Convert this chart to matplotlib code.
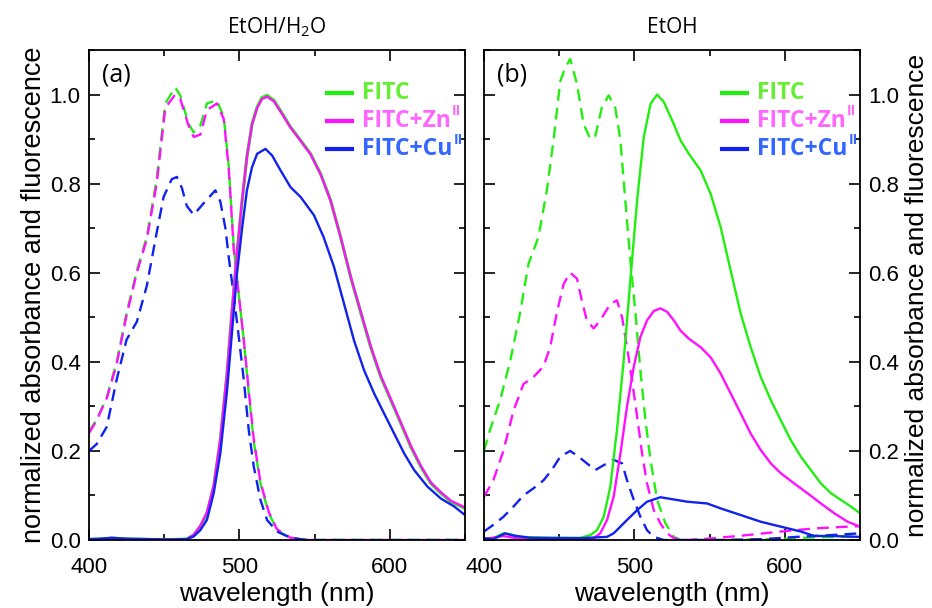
import numpy as np
import matplotlib
matplotlib.use('Agg')
import matplotlib.pyplot as plt
from matplotlib.ticker import MultipleLocator, FormatStrFormatter

# ---- (a) EtOH/H2O : absorbance (dashed) ----
wl_abs_a = [400, 405, 411.8, 418.4, 425, 431.8, 438.4, 445, 450.7, 457.3, 460.7, 466.2, 469.6, 474,
            478.4, 485, 489.6, 492.9, 496.2, 499.6, 502.9, 506.2, 509.6, 514, 519.6, 525, 534, 545, 600, 650]
abs_fitc_a = [0.243, 0.27, 0.32, 0.40, 0.51, 0.605, 0.68, 0.81, 0.98, 1.016, 0.998, 0.934, 0.915, 0.93,
              0.98, 0.987, 0.95, 0.84, 0.66, 0.55, 0.45, 0.33, 0.22, 0.127, 0.06, 0.022, 0.004, 0.0, 0.0, 0.0]
abs_zn_a = [0.24, 0.268, 0.318, 0.395, 0.505, 0.60, 0.675, 0.80, 0.97, 1.0, 0.99, 0.93, 0.905, 0.91,
            0.965, 0.98, 0.945, 0.835, 0.655, 0.55, 0.45, 0.335, 0.225, 0.13, 0.062, 0.024, 0.005, 0.0, 0.0, 0.0]

wl_abs_cu_a = [400, 405, 411.8, 418.4, 425, 431.8, 438.4, 445, 449.6, 455, 458.4, 461.8, 465, 469.6, 476,
               484, 487.3, 490.7, 492.9, 496.2, 499.6, 502.9, 506.2, 509.6, 514, 518.4, 525, 534, 545, 650]
abs_cu_a = [0.20, 0.215, 0.254, 0.36, 0.45, 0.49, 0.57, 0.69, 0.77, 0.81, 0.815, 0.79, 0.75, 0.73, 0.755,
            0.785, 0.76, 0.70, 0.635, 0.55, 0.456, 0.36, 0.247, 0.164, 0.09, 0.045, 0.019, 0.005, 0.0, 0.0]

# ---- (a) EtOH/H2O : fluorescence (solid) ----
wl_em_a = [400, 408, 415, 425, 440, 455, 465, 469.6, 474, 478.4, 482.9, 487.3, 491.8, 495, 498.4, 501.8,
           505, 508.4, 511.8, 515, 518.4, 522.9, 527.3, 534, 540.7, 547.3, 554, 560.7, 567.3, 574,
           580.7, 587.3, 594, 600.7, 607.3, 614, 620.7, 627.3, 634, 640.7, 650]
em_fitc_a = [0.001, 0.002, 0.004, 0.002, 0.001, 0.001, 0.002, 0.011, 0.03, 0.06, 0.12, 0.224, 0.374, 0.51,
             0.643, 0.762, 0.86, 0.934, 0.972, 0.993, 0.998, 0.987, 0.964, 0.927, 0.897, 0.867, 0.822,
             0.762, 0.68, 0.59, 0.51, 0.433, 0.366, 0.314, 0.262, 0.209, 0.164, 0.127, 0.105, 0.086, 0.071]
em_zn_a = [0.001, 0.002, 0.004, 0.002, 0.001, 0.001, 0.002, 0.012, 0.032, 0.062, 0.122, 0.226, 0.376, 0.512,
           0.645, 0.763, 0.86, 0.933, 0.97, 0.99, 0.995, 0.985, 0.962, 0.926, 0.896, 0.866, 0.821,
           0.761, 0.68, 0.591, 0.512, 0.435, 0.368, 0.316, 0.264, 0.211, 0.166, 0.129, 0.107, 0.088, 0.073]

wl_em_cu_a = [400, 408, 415, 425, 440, 455, 465, 469.6, 474, 478.4, 482.9, 487.3, 491.8, 495, 498.4, 501.8,
              505, 508.4, 511.8, 517.3, 521.8, 527.3, 534, 540.7, 549.6, 556, 562.9, 569.6, 576.2, 582.9,
              589.6, 596.2, 602.9, 609.6, 616.2, 625, 634, 642.9, 650]
em_cu_a = [0.002, 0.003, 0.005, 0.003, 0.002, 0.001, 0.002, 0.008, 0.022, 0.045, 0.105, 0.194, 0.336, 0.463,
           0.598, 0.70, 0.785, 0.837, 0.867, 0.878, 0.863, 0.83, 0.792, 0.77, 0.729, 0.68, 0.613, 0.53,
           0.448, 0.381, 0.329, 0.284, 0.239, 0.194, 0.157, 0.12, 0.093, 0.075, 0.056]

# ---- (b) EtOH : absorbance (dashed) ----
wl_abs_fitc_b = [400, 404, 410.7, 417.3, 424, 429.6, 436.2, 441.8, 446.2, 450.7, 454, 457.3, 461.8, 466.2,
                 470.7, 474, 478.4, 482.9, 487.3, 490.7, 494, 497.3, 500.7, 504, 507.3, 510.7, 515.1, 520.7,
                 526.2, 530.7, 560, 600, 620, 650]
abs_fitc_b = [0.20, 0.247, 0.314, 0.40, 0.51, 0.62, 0.68, 0.785, 0.897, 1.03, 1.06, 1.08, 1.024, 0.934,
              0.90, 0.907, 0.972, 0.998, 0.97, 0.897, 0.76, 0.628, 0.51, 0.38, 0.27, 0.18, 0.09, 0.037,
              0.007, 0.0, 0.0, 0.003, 0.006, 0.008]

wl_abs_zn_b = [400, 406.2, 412.9, 419.6, 426.2, 432.9, 439.6, 444, 448.4, 453, 457.3, 461.8, 465, 468.4,
               472.9, 477.3, 484, 488.4, 491.8, 495.1, 498.4, 501.8, 505.1, 508.4, 512.9, 517.3, 521.8,
               526.2, 535, 553, 575, 597.3, 619.6, 641.8, 650]
abs_zn_b = [0.097, 0.134, 0.20, 0.29, 0.35, 0.366, 0.39, 0.433, 0.51, 0.575, 0.60, 0.587, 0.538, 0.493,
            0.475, 0.493, 0.53, 0.538, 0.50, 0.433, 0.359, 0.277, 0.194, 0.127, 0.067, 0.037, 0.015,
            0.004, 0.0, 0.004, 0.011, 0.019, 0.026, 0.03, 0.031]

wl_abs_cu_b = [400, 406.2, 412.9, 419.6, 426.2, 432.9, 439.6, 445, 450.7, 457.3, 462.9, 468.4, 474, 479.6,
               486.2, 491.8, 495.1, 499.6, 504, 508.4, 512.9, 519.6, 560, 586, 608, 630.7, 650]
abs_cu_b = [0.019, 0.034, 0.052, 0.075, 0.10, 0.116, 0.134, 0.157, 0.187, 0.20, 0.187, 0.172, 0.157, 0.168,
            0.18, 0.172, 0.134, 0.09, 0.052, 0.022, 0.007, 0.0, 0.0, 0.002, 0.007, 0.011, 0.015]

# ---- (b) EtOH : fluorescence (solid) ----
wl_em_fitc_b = [400, 406, 412.9, 417.3, 424, 441.8, 464, 470.7, 475.1, 479.6, 484, 488.4, 492.9, 497.3,
                501.8, 506.2, 510.7, 515.1, 519.6, 525.1, 530.7, 536.2, 544, 550.7, 557.3, 564, 570.7,
                577.3, 584, 590.7, 597.3, 604, 610.7, 617.3, 624, 630.7, 637.3, 644, 650]
em_fitc_b = [0.004, 0.004, 0.015, 0.013, 0.007, 0.005, 0.005, 0.011, 0.022, 0.052, 0.12, 0.247, 0.404,
             0.583, 0.762, 0.904, 0.979, 1.0, 0.983, 0.942, 0.897, 0.867, 0.83, 0.777, 0.703, 0.605,
             0.508, 0.433, 0.366, 0.314, 0.269, 0.224, 0.187, 0.157, 0.127, 0.105, 0.09, 0.075, 0.06]

wl_em_zn_b = [400, 412.9, 419.6, 441.8, 472.9, 477.3, 481.8, 486.2, 490.7, 495.1, 499.6, 504, 508.4, 512.9,
              517.3, 521.8, 526.2, 530.7, 536.2, 544, 550.7, 557.3, 564, 570.7, 577.3, 584, 590.7, 597.3,
              606.2, 615.1, 624, 632.9, 641.8, 650]
em_zn_b = [0.002, 0.009, 0.005, 0.002, 0.004, 0.015, 0.045, 0.097, 0.194, 0.30, 0.389, 0.456, 0.493, 0.514,
           0.52, 0.512, 0.493, 0.47, 0.452, 0.433, 0.41, 0.374, 0.329, 0.284, 0.239, 0.202, 0.172, 0.15,
           0.127, 0.105, 0.082, 0.06, 0.041, 0.03]

wl_em_cu_b = [400, 406.2, 414, 419.6, 430.7, 464, 481.8, 486.2, 490.7, 495.1, 501.8, 508.4, 517.3, 526.2,
              535.1, 548.4, 557.3, 570.7, 584, 597.3, 610.7, 619.6, 630.7, 650]
em_cu_b = [0.004, 0.002, 0.015, 0.01, 0.005, 0.004, 0.007, 0.015, 0.03, 0.045, 0.067, 0.086, 0.096, 0.091,
           0.086, 0.082, 0.071, 0.056, 0.041, 0.03, 0.019, 0.009, 0.009, 0.007]

labels = ['FITC', 'FITC+Zn', 'FITC+Cu']
label_sup = ['', 'II', 'II']
titles = ['EtOH/H$_\\mathregular{2}$O', 'EtOH']
panel_tags = ['(a)', '(b)']

c_line = ['#22ee11', '#ff11ff', '#1122ee']
c_text = ['#66ee33', '#ff66ff', '#3366ff']

plt.rcParams['font.family'] = ['Liberation Sans', 'DejaVu Sans']
plt.rcParams['mathtext.fontset'] = 'custom'

fig = plt.figure(figsize=(9.32, 6.08), dpi=100)
ax1 = fig.add_axes([89/932, 1-540/608, 376/932, 490/608])
ax2 = fig.add_axes([484/932, 1-540/608, 376/932, 490/608])

dash = (5, 3)
lw = 1.7

ax1.plot(wl_abs_a, abs_fitc_a, color=c_line[0], lw=lw, dashes=dash)
ax1.plot(wl_abs_a, abs_zn_a, color=c_line[1], lw=lw, dashes=dash)
ax1.plot(wl_abs_cu_a, abs_cu_a, color=c_line[2], lw=lw, dashes=dash)
ax1.plot(wl_em_a, em_fitc_a, color=c_line[0], lw=lw+0.6)
ax1.plot(wl_em_a, em_zn_a, color=c_line[1], lw=lw)
ax1.plot(wl_em_cu_a, em_cu_a, color=c_line[2], lw=lw)

ax2.plot(wl_abs_fitc_b, abs_fitc_b, color=c_line[0], lw=lw, dashes=dash)
ax2.plot(wl_abs_zn_b, abs_zn_b, color=c_line[1], lw=lw, dashes=dash)
ax2.plot(wl_abs_cu_b, abs_cu_b, color=c_line[2], lw=lw, dashes=dash)
ax2.plot(wl_em_fitc_b, em_fitc_b, color=c_line[0], lw=lw)
ax2.plot(wl_em_zn_b, em_zn_b, color=c_line[1], lw=lw)
ax2.plot(wl_em_cu_b, em_cu_b, color=c_line[2], lw=lw)

for i, ax in enumerate([ax1, ax2]):
    ax.set_xlim(400, 650)
    ax.set_ylim(0, 1.1)
    ax.xaxis.set_major_locator(MultipleLocator(100))
    ax.xaxis.set_minor_locator(MultipleLocator(50))
    ax.yaxis.set_major_locator(MultipleLocator(0.2))
    ax.yaxis.set_minor_locator(MultipleLocator(0.1))
    ax.tick_params(which='both', direction='in', top=True, right=True, labelsize=16, width=1.2)
    ax.tick_params(which='major', length=8)
    ax.tick_params(which='minor', length=4)
    ax.tick_params(axis='y', which='major', pad=6)
    ax.tick_params(axis='x', which='major', pad=12)
    ax.yaxis.set_major_formatter(FormatStrFormatter('%.1f'))
    for s in ax.spines.values():
        s.set_linewidth(1.3)
    ax.set_xlabel('wavelength (nm)', fontsize=19, labelpad=3)
    ax.set_title(titles[i], fontsize=15, family=['Open Sans', 'DejaVu Sans'], pad=12)
    ax.text(0.035, 0.975, panel_tags[i], transform=ax.transAxes, fontsize=18,
            family=['Open Sans', 'DejaVu Sans'], va='top', ha='left')
    for k in range(3):
        yy = 0.913 - k * 0.058
        ax.plot([0.633, 0.70], [yy, yy], transform=ax.transAxes, color=c_line[k], lw=3)
        t = ax.text(0.726, yy, labels[k], transform=ax.transAxes, color=c_text[k], fontsize=16.5,
                    fontweight='bold', family=['Open Sans', 'DejaVu Sans'], va='center', ha='left')
        if label_sup[k]:
            ax.annotate(label_sup[k], xy=(1.0, 0.62), xycoords=t, xytext=(1, 0),
                        textcoords='offset points', color=c_text[k], fontsize=10,
                        fontweight='bold', family=['Open Sans', 'DejaVu Sans'],
                        va='bottom', ha='left')

ax1.set_ylabel('normalized absorbance and fluorescence', fontsize=19.5, labelpad=2)
ax2.yaxis.tick_right()
ax2.tick_params(which='both', left=True, right=True, labelleft=False, labelright=True)
ax2.yaxis.set_label_position('right')
ax2.set_ylabel('normalized absorbance and fluorescence', fontsize=19, labelpad=4, rotation=90)

fig.savefig('out.png', dpi=100)
